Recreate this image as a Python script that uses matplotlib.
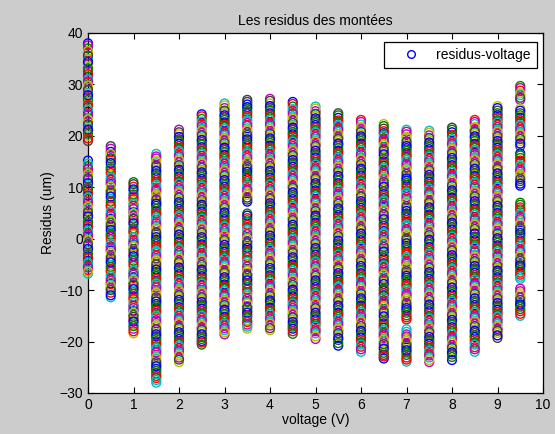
import matplotlib
matplotlib.use("Agg")
import matplotlib.pyplot as plt
from matplotlib.lines import Line2D

voltages = [0, 0.5, 1, 1.5, 2, 2.5, 3, 3.5, 4, 4.5, 5, 5.5, 6, 6.5, 7, 7.5, 8, 8.5, 9, 9.5]

# first series of residuals (um) per voltage
c00 = [38, 37, 36.2, 35, 34, 33.5, 32.6, 31.5, 30, 29.4, 28.3, 27.5, 26.4, 25.6, 24.7, 23.5, 22.8, 21.6, 20.9, 20, 19,
       15.2, 14.1, 13, 12.2, 11.3, 10.2, 9.5, 8.4, 7.7, 6.5, 5.8, 4.6, 3.9, 2.8, 2, 1.1, 0.2, -0.8, -1.5, -2.6, -3.4,
       -4.3, -5.2, -6.1, -6.8]
c05 = [18, 16.9, 16.1, 15.2, 14.1, 13.3, 12.4, 11.5, 10.6, 9.4, 8.7, 7.8, 6.6, 5.9, 4.8, 3.9, 3.1, 2.2, 1.2, 0.4, -0.6,
       -1.5, -2.3, -3.4, -4.2, -5.1, -6, -6.9, -7.8, -8.7, -9.6, -10.5, -11.4]
c10 = [11, 10.1, 9.2, 8.1, 7.3, 6.4, 5.2, 4.5, 3.4, 2.6, 1.5, 0.8, -0.3, -1.1, -2, -3, -3.9, -4.7, -5.8, -6.6, -7.5,
       -8.6, -9.4, -10.2, -11.3, -12.1, -13, -14, -14.8, -15.7, -16.6, -17.5, -18.4]
c15 = [16.5, 15.6, 14.6, 13.8, 12.7, 11.9, 11, 9.9, 9.1, 8.2, 7.1, 6.4, 5.3, 4.5, 3.6, 2.5, 1.7, 0.8, -0.2, -1, -2,
       -2.8, -3.8, -4.6, -5.5, -6.5, -7.3, -8.3, -9.1, -10, -11, -11.8, -12.7, -13.6, -14.5, -15.4, -16.4, -17.2,
       -18.1, -19, -20, -20.9, -21.7, -22.6, -23.6, -24.4, -25.3, -26.2, -27.1, -28]
c20 = [21.2, 20.3, 19.3, 18.5, 17.5, 16.6, 15.7, 14.9, 13.8, 13, 12.1, 11.1, 10.3, 9.3, 8.5, 7.5, 6.7, 5.8, 4.8, 4,
       3.1, 2.1, 1.3, 0.3, -0.6, -1.5, -2.4, -3.3, -4.2, -5.1, -6.1, -6.9, -7.9, -8.7, -9.6, -10.6, -11.4, -12.3,
       -13.3, -14.1, -15, -15.9, -16.9, -17.7, -18.6, -19.5, -20.4, -21.3, -22.2, -23.1, -24]
c25 = [24.2, 23.3, 22.4, 21.4, 20.6, 19.6, 18.8, 17.8, 17, 16.1, 15.1, 14.3, 13.3, 12.5, 11.6, 10.6, 9.8, 8.8, 8, 7,
       6.2, 5.3, 4.3, 3.5, 2.5, 1.7, 0.7, -0.1, -1.1, -1.9, -2.8, -3.8, -4.6, -5.6, -6.4, -7.3, -8.3, -9.1, -10.1,
       -10.9, -11.8, -12.8, -13.6, -14.6, -15.4, -16.3, -17.3, -18.1, -19.1, -19.9, -20.6]
c30 = [26.3, 25.4, 24.4, 23.6, 22.6, 21.8, 20.8, 20, 19.1, 18.1, 17.3, 16.3, 15.5, 14.6, 13.6, 12.8, 11.8, 11, 10.1,
       9.1, 8.3, 7.3, 6.5, 5.6, 4.6, 3.8, 2.8, 2, 1.1, 0.1, -0.7, -1.7, -2.5, -3.4, -4.4, -5.2, -6.2, -7, -7.9, -8.9,
       -9.7, -10.7, -11.5, -12.4, -13.4, -14.2, -15.2, -16, -16.9, -17.8, -18.6]
c35 = [27, 26.1, 25.2, 24.3, 23.3, 22.5, 21.5, 20.7, 19.8, 18.8, 18, 17, 16.2, 15.3, 14.3, 13.5, 12.5, 11.7, 10.8,
       9.8, 9, 8, 7.2, 4.9, 4, 3.1, 2.1, 1.3, 0.3, -0.5, -1.4, -2.4, -3.2, -4.2, -5, -5.9, -6.9, -7.7, -8.7, -9.5,
       -10.4, -11.4, -12.2, -13.2, -14, -14.9, -15.9, -16.7, -17.5]
c40 = [27.2, 26.3, 25.4, 24.4, 23.6, 22.6, 21.8, 20.9, 19.9, 19.1, 18.1, 17.3, 16.4, 15.4, 14.6, 13.6, 12.8, 11.9,
       10.9, 10.1, 9.1, 8.3, 7.4, 6.4, 5.6, 4.6, 3.8, 2.9, 1.9, 1.1, 0.1, -0.7, -1.6, -2.6, -3.4, -4.4, -5.2, -6.1,
       -7.1, -7.9, -8.9, -9.7, -10.6, -11.6, -12.4, -13.4, -14.2, -15.1, -16.1, -16.9, -17.8]
c45 = [26.6, 25.7, 24.8, 23.8, 23, 22, 21.2, 20.3, 19.3, 18.5, 17.5, 16.7, 15.8, 14.8, 14, 13, 12.2, 11.3, 10.3, 9.5,
       8.5, 7.7, 6.8, 5.8, 5, 4, 3.2, 2.3, 1.3, 0.5, -0.5, -1.3, -2.2, -3.2, -4, -5, -5.8, -6.7, -7.7, -8.5, -9.5,
       -10.3, -11.2, -12.2, -13, -14, -14.8, -15.7, -16.7, -17.5, -18.5]
c50 = [25.7, 24.8, 23.9, 22.9, 22.1, 21.1, 20.3, 19.4, 18.4, 17.6, 16.6, 15.8, 14.9, 13.9, 13.1, 12.1, 11.3, 10.4,
       9.4, 8.6, 7.6, 6.8, 5.9, 4.9, 4.1, 3.1, 2.3, 1.4, 0.4, -0.4, -1.4, -2.2, -3.1, -4.1, -4.9, -5.9, -6.7, -7.6,
       -8.6, -9.4, -10.4, -11.2, -12.1, -13.1, -13.9, -14.9, -15.7, -16.6, -17.6, -18.4, -19.5]
c55 = [24.4, 23.5, 22.6, 21.6, 20.8, 19.8, 19, 18.1, 17.1, 16.3, 15.3, 14.5, 13.6, 12.6, 11.8, 10.8, 10, 9.1, 8.1,
       7.3, 6.3, 5.5, 4.6, 3.6, 2.8, 1.8, 1, 0.1, -0.9, -1.7, -2.7, -3.5, -4.4, -5.4, -6.2, -7.2, -8, -8.9, -9.9,
       -10.7, -11.7, -12.5, -13.4, -14.4, -15.2, -16.2, -17, -17.9, -18.9, -19.7, -20.8]
c60 = [23.1, 22.2, 21.3, 20.3, 19.5, 18.5, 17.7, 16.8, 15.8, 15, 14, 13.2, 12.3, 11.3, 10.5, 9.5, 8.7, 7.8, 6.8, 6,
       5, 4.2, 3.3, 2.3, 1.5, 0.5, -0.3, -1.2, -2.2, -3, -4, -4.8, -5.7, -6.7, -7.5, -8.5, -9.3, -10.2, -11.2, -12,
       -13, -13.8, -14.7, -15.7, -16.5, -17.5, -18.3, -19.2, -20.2, -21, -22]
c65 = [22.3, 21.4, 20.5, 19.5, 18.7, 17.7, 16.9, 16, 15, 14.2, 13.2, 12.4, 11.5, 10.5, 9.7, 8.7, 7.9, 7, 6, 5.2, 4.2,
       3.4, 2.5, 1.5, 0.7, -0.3, -1.1, -2, -3, -3.8, -4.8, -5.6, -6.5, -7.5, -8.3, -9.3, -10.1, -11, -12, -12.8,
       -13.8, -14.6, -15.5, -16.5, -17.3, -18.3, -19.1, -20, -21, -21.8, -22.6, -23.3]
c70 = [21.2, 20.3, 19.4, 18.4, 17.6, 16.6, 15.8, 14.9, 13.9, 13.1, 12.1, 11.3, 10.4, 9.4, 8.6, 7.6, 6.8, 5.9, 4.9,
       4.1, 3.1, 2.3, 1.4, 0.4, -0.4, -1.4, -2.2, -3.1, -4.1, -4.9, -5.9, -6.7, -7.6, -8.6, -9.4, -10.4, -11.2,
       -12.1, -13.1, -13.9, -14.9, -15.7, -17.6, -18.6, -19.4, -20.4, -21.2, -22.1, -23.1, -23.9]
c75 = [21, 20.1, 19.2, 18.2, 17.4, 16.4, 15.6, 14.7, 13.7, 12.9, 11.9, 11.1, 10.2, 9.2, 8.4, 7.4, 6.6, 5.7, 4.7, 3.9,
       2.9, 2.1, 1.2, 0.2, -0.6, -1.6, -2.4, -3.3, -4.3, -5.1, -6.1, -6.9, -7.8, -8.8, -9.6, -10.6, -11.4, -12.3,
       -13.3, -14.1, -15.1, -15.9, -16.8, -17.8, -18.6, -19.6, -20.4, -21.3, -22.3, -23.1, -24]
c80 = [21.6, 20.7, 19.8, 18.8, 18, 17, 16.2, 15.3, 14.3, 13.5, 12.5, 11.7, 10.8, 9.8, 9, 8, 7.2, 6.3, 5.3, 4.5, 3.5,
       2.7, 1.8, 0.8, 0, -1, -1.8, -2.7, -3.7, -4.5, -5.5, -6.3, -7.2, -8.2, -9, -10, -10.8, -11.7, -12.7, -13.5,
       -14.5, -15.3, -16.2, -17.2, -18, -19, -19.8, -20.7, -21.7, -22.5, -23.6]
c85 = [23.1, 22.3, 21.2, 20.4, 19.5, 18.4, 17.7, 16.9, 15.8, 14.9, 14.1, 13.2, 12.2, 11.4, 10.5, 9.4, 8.7, 7.9, 6.8,
       5.9, 5.1, 4.2, 3.2, 2.4, 1.5, 0.4, -0.3, -1.1, -2.2, -3.1, -3.9, -4.8, -5.8, -6.6, -7.5, -8.6, -9.3, -10.1,
       -11.2, -12.1, -12.9, -13.8, -14.8, -15.6, -16.5, -17.6, -18.3, -19.1, -20.2, -21.1, -22]
c90 = [25.8, 24.9, 24, 23, 22.2, 21.2, 20.4, 19.5, 18.5, 17.7, 16.7, 15.9, 15, 14, 13.2, 12.2, 11.4, 10.5, 9.5, 8.7,
       7.7, 6.9, 6, 5, 4.2, 3.2, 2.4, 1.5, 0.5, -0.3, -1.3, -2.1, -3, -4, -4.8, -5.8, -6.6, -7.5, -8.5, -9.3, -10.3,
       -11.1, -12, -13, -13.8, -14.8, -15.6, -16.5, -17.5, -18.3, -19.3]
c95 = [29.7, 28.8, 27.9, 27, 25.3, 24.4, 23.5, 22.5, 21.7, 20.7, 19.9, 19, 18, 16.6, 15.7, 14.8, 13.8, 13, 12, 11.2,
       10.3, 7, 6.1, 5.2, 4.2, 3.4, 2.4, 1.6, 0.7, -0.3, -1.1, -2.1, -2.9, -3.8, -4.8, -5.6, -6.6, -7.4, -9.7, -10.6,
       -11.4, -12.4, -13.2, -14.1, -15]

# second series of residuals (um) per voltage
d00 = [37.6, 36.5, 35.6, 34.4, 33.1, 32, 31, 30.6, 29.8, 28.9, 27.9, 27, 26, 25.1, 24.1, 23.2, 22.2, 21.2, 20.4, 19.5,
       14.6, 13.6, 12.6, 11.7, 10.8, 9.9, 8.9, 8, 7.1, 6.2, 5.2, 4.3, 3.3, 2.4, 1.5, 0.7, -0.3, -1.1, -2, -3, -3.8,
       -4.7, -5.6, -6.4]
d05 = [17.5, 16.5, 15.6, 14.7, 13.7, 12.8, 11.9, 11, 10.1, 9, 8.2, 7.2, 6.3, 5.3, 4.4, 3.5, 2.6, 1.7, 0.8, -0.1, -1,
       -1.9, -2.8, -3.8, -4.6, -5.5, -6.4, -7.3, -8.2, -9.1, -10, -11]
d10 = [10.6, 9.6, 8.6, 7.7, 6.8, 5.8, 4.9, 3.9, 3, 2, 1.2, 0.3, -0.7, -1.5, -2.5, -3.4, -4.3, -5.2, -6.2, -7, -8, -9,
       -9.8, -10.7, -11.7, -12.5, -13.5, -14.4, -15.2, -16.1, -17, -18]
d15 = [16, 15.1, 14.2, 13.2, 12.3, 11.4, 10.4, 9.5, 8.6, 7.6, 6.8, 5.8, 4.9, 4, 3, 2.1, 1.2, 0.3, -0.6, -1.5, -2.4,
       -3.3, -4.2, -5, -6, -6.9, -7.8, -8.7, -9.5, -10.5, -11.4, -12.2, -13.1, -14, -15, -15.9, -16.8, -17.6, -18.6,
       -19.5, -20.4, -21.3, -22.1, -23.1, -24, -24.8, -25.7, -26.7, -27.5]
d20 = [20.7, 19.8, 18.9, 18, 17, 16.1, 15.3, 14.3, 13.4, 12.5, 11.6, 10.7, 9.8, 8.9, 8, 7.1, 6.2, 5.3, 4.4, 3.5, 2.6,
       1.7, 0.8, -0.2, -1, -2, -2.8, -3.8, -4.6, -5.6, -6.5, -7.4, -8.3, -9.2, -10.1, -11, -11.9, -12.8, -13.7, -14.6,
       -15.5, -16.4, -17.3, -18.2, -19.1, -20, -20.8, -21.8, -22.7, -23.5]
d25 = [23.8, 22.8, 21.9, 21, 20.1, 19.2, 18.3, 17.4, 16.5, 15.6, 14.7, 13.8, 12.9, 12, 11.1, 10.2, 9.3, 8.4, 7.5, 6.6,
       5.7, 4.8, 3.9, 3, 2.1, 1.2, 0.3, -0.6, -1.5, -2.4, -3.3, -4.2, -5.1, -6, -6.9, -7.8, -8.7, -9.6, -10.5, -11.4,
       -12.3, -13.2, -14.1, -15, -15.9, -16.8, -17.7, -18.6, -19.5, -20.2]
d30 = [25.9, 24.9, 24, 23.1, 22.2, 21.3, 20.4, 19.5, 18.6, 17.7, 16.8, 15.9, 15, 14.1, 13.2, 12.3, 11.4, 10.5, 9.6,
       8.7, 7.8, 6.9, 6, 5.1, 4.2, 3.3, 2.4, 1.5, 0.6, -0.3, -1.2, -2.1, -3, -3.9, -4.8, -5.7, -6.6, -7.5, -8.4, -9.3,
       -10.2, -11.1, -12, -12.9, -13.8, -14.7, -15.6, -16.5, -17.4, -18.2]
d35 = [26.6, 25.6, 24.7, 23.8, 22.9, 22, 21.1, 20.2, 19.3, 18.4, 17.5, 16.6, 15.7, 14.8, 13.9, 13, 12.1, 11.2, 10.3,
       9.4, 8.5, 7.6, 4.5, 3.6, 2.7, 1.8, 0.9, 0, -0.9, -1.8, -2.7, -3.6, -4.5, -5.4, -6.3, -7.2, -8.1, -9, -9.9,
       -10.8, -11.7, -12.6, -13.5, -14.4, -15.3, -16.2, -17.1]
d40 = [26.8, 25.8, 24.9, 24, 23.1, 22.2, 21.3, 20.4, 19.5, 18.6, 17.7, 16.8, 15.9, 15, 14.1, 13.2, 12.3, 11.4, 10.5,
       9.6, 8.7, 7.8, 6.9, 6, 5.1, 4.2, 3.3, 2.4, 1.5, 0.6, -0.3, -1.2, -2.1, -3, -3.9, -4.8, -5.7, -6.6, -7.5, -8.4,
       -9.3, -10.2, -11.1, -12, -12.9, -13.8, -14.7, -15.6, -16.5, -17.4]
d45 = [26.2, 25.2, 24.3, 23.4, 22.5, 21.6, 20.7, 19.8, 18.9, 18, 17.1, 16.2, 15.3, 14.4, 13.5, 12.6, 11.7, 10.8, 9.9,
       9, 8.1, 7.2, 6.3, 5.4, 4.5, 3.6, 2.7, 1.8, 0.9, 0, -0.9, -1.8, -2.7, -3.6, -4.5, -5.4, -6.3, -7.2, -8.1, -9,
       -9.9, -10.8, -11.7, -12.6, -13.5, -14.4, -15.3, -16.2, -17.1, -18]
d50 = [25.3, 24.3, 23.4, 22.5, 21.6, 20.7, 19.8, 18.9, 18, 17.1, 16.2, 15.3, 14.4, 13.5, 12.6, 11.7, 10.8, 9.9, 9,
       8.1, 7.2, 6.3, 5.4, 4.5, 3.6, 2.7, 1.8, 0.9, 0, -0.9, -1.8, -2.7, -3.6, -4.5, -5.4, -6.3, -7.2, -8.1, -9, -9.9,
       -10.8, -11.7, -12.6, -13.5, -14.4, -15.3, -16.2, -17.1, -18, -19]
d55 = [24, 23, 22.1, 21.2, 20.3, 19.4, 18.5, 17.6, 16.7, 15.8, 14.9, 14, 13.1, 12.2, 11.3, 10.4, 9.5, 8.6, 7.7, 6.8,
       5.9, 5, 4.1, 3.2, 2.3, 1.4, 0.5, -0.4, -1.3, -2.2, -3.1, -4, -4.9, -5.8, -6.7, -7.6, -8.5, -9.4, -10.3, -11.2,
       -12.1, -13, -13.9, -14.8, -15.7, -16.6, -17.5, -18.4, -19.3, -20.3]
d60 = [22.7, 21.7, 20.8, 19.9, 19, 18.1, 17.2, 16.3, 15.4, 14.5, 13.6, 12.7, 11.8, 10.9, 10, 9.1, 8.2, 7.3, 6.4, 5.5,
       4.6, 3.7, 2.8, 1.9, 1, 0.1, -0.8, -1.7, -2.6, -3.5, -4.4, -5.3, -6.2, -7.1, -8, -8.9, -9.8, -10.7, -11.6,
       -12.5, -13.4, -14.3, -15.2, -16.1, -17, -17.9, -18.8, -19.7, -20.6, -21.5]
d65 = [21.9, 20.9, 20, 19.1, 18.2, 17.3, 16.4, 15.5, 14.6, 13.7, 12.8, 11.9, 11, 10.1, 9.2, 8.3, 7.4, 6.5, 5.6, 4.7,
       3.8, 2.9, 2, 1.1, 0.2, -0.7, -1.6, -2.5, -3.4, -4.3, -5.2, -6.1, -7, -7.9, -8.8, -9.7, -10.6, -11.5, -12.4,
       -13.3, -14.2, -15.1, -16, -16.9, -17.8, -18.7, -19.6, -20.5, -21.4, -22.2, -22.9]
d70 = [20.8, 19.8, 18.9, 18, 17.1, 16.2, 15.3, 14.4, 13.5, 12.6, 11.7, 10.8, 9.9, 9, 8.1, 7.2, 6.3, 5.4, 4.5, 3.6,
       2.7, 1.8, 0.9, 0, -0.9, -1.8, -2.7, -3.6, -4.5, -5.4, -6.3, -7.2, -8.1, -9, -9.9, -10.8, -11.7, -12.6, -13.5,
       -14.4, -15.3, -18.1, -19, -19.9, -20.8, -21.7, -22.6, -23.5]
d75 = [20.6, 19.6, 18.7, 17.8, 16.9, 16, 15.1, 14.2, 13.3, 12.4, 11.5, 10.6, 9.7, 8.8, 7.9, 7, 6.1, 5.2, 4.3, 3.4,
       2.5, 1.6, 0.7, -0.2, -1.1, -2, -2.9, -3.8, -4.7, -5.6, -6.5, -7.4, -8.3, -9.2, -10.1, -11, -11.9, -12.8,
       -13.7, -14.6, -15.5, -16.4, -17.3, -18.2, -19.1, -20, -20.9, -21.8, -22.7, -23.6]
d80 = [21.2, 20.2, 19.3, 18.4, 17.5, 16.6, 15.7, 14.8, 13.9, 13, 12.1, 11.2, 10.3, 9.4, 8.5, 7.6, 6.7, 5.8, 4.9, 4,
       3.1, 2.2, 1.3, 0.4, -0.5, -1.4, -2.3, -3.2, -4.1, -5, -5.9, -6.8, -7.7, -8.6, -9.5, -10.4, -11.3, -12.2, -13.1,
       -14, -14.9, -15.8, -16.7, -17.6, -18.5, -19.4, -20.3, -21.2, -22.1, -23]
d85 = [22.7, 21.7, 20.8, 19.9, 19, 18.1, 17.2, 16.3, 15.4, 14.5, 13.6, 12.7, 11.8, 10.9, 10, 9.1, 8.2, 7.3, 6.4, 5.5,
       4.6, 3.7, 2.8, 1.9, 1, 0.1, -0.8, -1.7, -2.6, -3.5, -4.4, -5.3, -6.2, -7.1, -8, -8.9, -9.8, -10.7, -11.6,
       -12.5, -13.4, -14.3, -15.2, -16.1, -17, -17.9, -18.8, -19.7, -20.6, -21.5]
d90 = [25.4, 24.4, 23.5, 22.6, 21.7, 20.8, 19.9, 19, 18.1, 17.2, 16.3, 15.4, 14.5, 13.6, 12.7, 11.8, 10.9, 10, 9.1,
       8.2, 7.3, 6.4, 5.5, 4.6, 3.7, 2.8, 1.9, 1, 0.1, -0.8, -1.7, -2.6, -3.5, -4.4, -5.3, -6.2, -7.1, -8, -8.9, -9.8,
       -10.7, -11.6, -12.5, -13.4, -14.3, -15.2, -16.1, -17, -17.9, -18.8]
d95 = [29.3, 28.3, 27.4, 24.9, 24, 23, 22.1, 21.2, 20.3, 19.4, 18.5, 16.2, 15.2, 14.3, 13.4, 12.5, 11.6, 10.7, 6.6,
       5.7, 4.7, 3.8, 2.9, 2, 1.1, 0.2, -0.7, -1.6, -2.5, -3.4, -4.3, -5.2, -6.1, -7, -7.8, -10.2, -11, -11.9, -12.8,
       -13.7, -14.6]

series_a = [c00, c05, c10, c15, c20, c25, c30, c35, c40, c45, c50, c55, c60, c65, c70, c75, c80, c85, c90, c95]
series_b = [d00, d05, d10, d15, d20, d25, d30, d35, d40, d45, d50, d55, d60, d65, d70, d75, d80, d85, d90, d95]

xticks = [0, 1, 2, 3, 4, 5, 6, 7, 8, 9, 10]
yticks = [-30, -20, -10, 0, 10, 20, 30, 40]

matlab_colors = [(0, 0, 1), (0, 0.5, 0), (1, 0, 0), (0, 0.75, 0.75),
                 (0.75, 0, 0.75), (0.75, 0.75, 0), (0.25, 0.25, 0.25)]

plt.rcParams['font.family'] = ['Liberation Sans', 'DejaVu Sans']
FS = 10

fig = plt.figure(figsize=(5.55, 4.34), dpi=100, facecolor=(0.8, 0.8, 0.8))
ax = fig.add_axes([88 / 555, 1 - 393 / 434, (543 - 88) / 555, (393 - 33) / 434])
ax.set_facecolor('white')

xs, ys, cs = [], [], []
k = 0
for v, ca, cb in zip(voltages, series_a, series_b):
    for r in ca + cb:
        xs.append(v)
        ys.append(r)
        cs.append(matlab_colors[k % len(matlab_colors)])
        k += 1
ax.scatter(xs, ys, s=40, facecolors='none', edgecolors=cs, linewidths=1.0,
           clip_on=False, zorder=3)

ax.set_xlim(0, 10)
ax.set_ylim(-30, 40)
ax.set_xticks(xticks)
ax.set_yticks(yticks)
ax.tick_params(direction='in', top=True, right=True, length=4, width=0.8, labelsize=FS, pad=3.5, colors='black')
for sp in ax.spines.values():
    sp.set_linewidth(0.9)
    sp.set_color('black')

ax.set_title('Les residus des montées', fontsize=FS, pad=6)
ax.set_xlabel('voltage (V)', fontsize=FS, labelpad=1)
ax.set_ylabel('Residus (um)', fontsize=FS, labelpad=3)

handle = Line2D([], [], linestyle='none', marker='o', markersize=5.5, markerfacecolor='none',
                markeredgecolor='blue', markeredgewidth=1.0)
leg = ax.legend([handle], ['residus-voltage'], loc='upper right', bbox_to_anchor=(0.9868, 0.9758),
                fancybox=False, framealpha=1, edgecolor='black', fontsize=FS,
                handlelength=2.9, handletextpad=0.4, borderpad=0.45, borderaxespad=0)
leg.get_frame().set_linewidth(0.9)

fig.savefig('out.png', dpi=100, facecolor=fig.get_facecolor())
